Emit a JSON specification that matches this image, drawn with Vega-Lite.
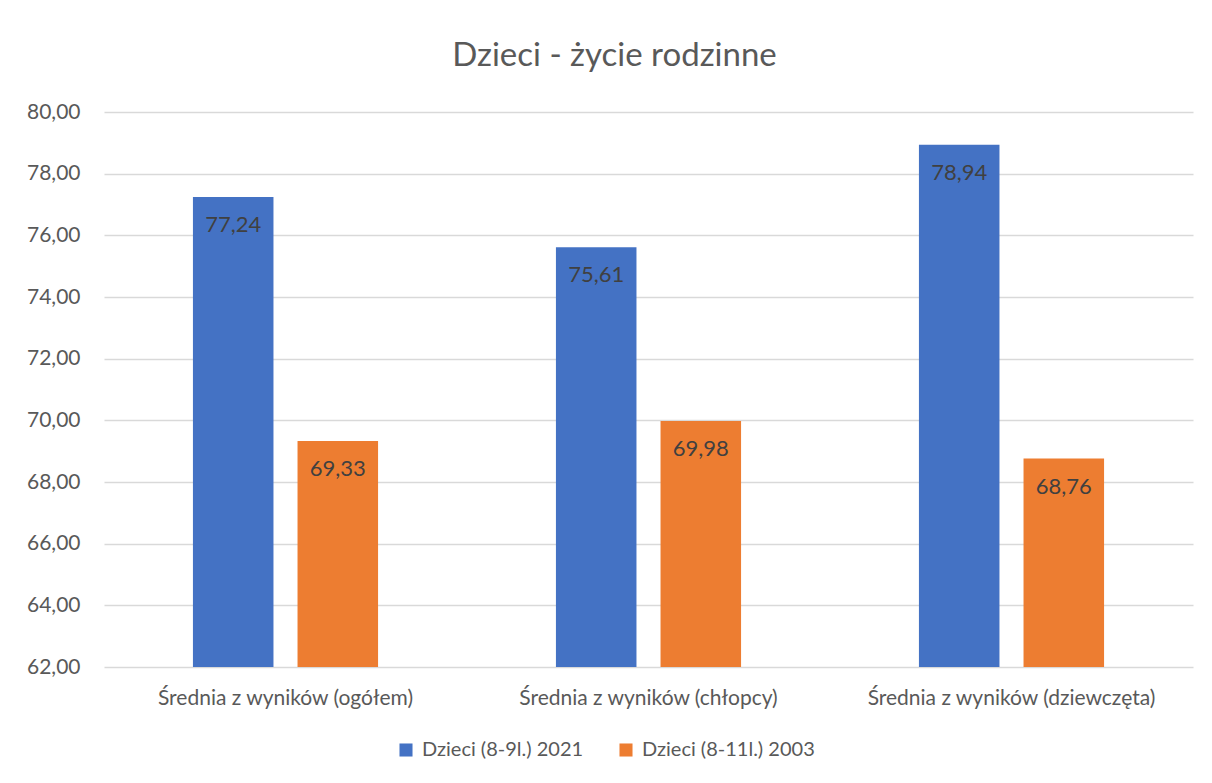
{
  "$schema": "https://vega.github.io/schema/vega-lite/v6.json",
  "autosize": {"type": "none"},
  "padding": {"left": 104, "top": 112, "right": 19, "bottom": 116},
  "width": 1089,
  "height": 555,
  "background": "white",
  "title": {
    "text": "Dzieci - życie rodzinne",
    "anchor": "middle",
    "dx": -34,
    "baseline": "alphabetic",
    "offset": 2,
    "font": "Lato",
    "fontSize": 33,
    "fontWeight": "normal",
    "color": "#595959"
  },
  "data": {
    "values": [
      {"kategoria": "Średnia z wyników (ogółem)", "seria": "Dzieci (8-9l.) 2021", "wartosc": 77.24},
      {"kategoria": "Średnia z wyników (ogółem)", "seria": "Dzieci (8-11l.) 2003", "wartosc": 69.33},
      {"kategoria": "Średnia z wyników (chłopcy)", "seria": "Dzieci (8-9l.) 2021", "wartosc": 75.61},
      {"kategoria": "Średnia z wyników (chłopcy)", "seria": "Dzieci (8-11l.) 2003", "wartosc": 69.98},
      {"kategoria": "Średnia z wyników (dziewczęta)", "seria": "Dzieci (8-9l.) 2021", "wartosc": 78.94},
      {"kategoria": "Średnia z wyników (dziewczęta)", "seria": "Dzieci (8-11l.) 2003", "wartosc": 68.76}
    ]
  },
  "encoding": {
    "x": {
      "field": "kategoria",
      "type": "nominal",
      "sort": null,
      "scale": {"paddingInner": 0.49, "paddingOuter": 0.245},
      "axis": {
        "title": null,
        "labelAngle": 0,
        "labelLimit": 0,
        "ticks": false,
        "domain": false,
        "labelPadding": 20,
        "labelFont": "Lato",
        "labelFontSize": 21,
        "labelColor": "#595959"
      }
    },
    "xOffset": {
      "field": "seria",
      "type": "nominal",
      "sort": ["Dzieci (8-9l.) 2021", "Dzieci (8-11l.) 2003"],
      "scale": {"paddingInner": 0.23, "paddingOuter": 0}
    },
    "y": {
      "field": "wartosc",
      "type": "quantitative",
      "scale": {"domain": [62, 80], "nice": false, "zero": false},
      "axis": {
        "title": null,
        "values": [62, 64, 66, 68, 70, 72, 74, 76, 78, 80],
        "format": ".2f",
        "ticks": false,
        "domain": false,
        "labelPadding": 24,
        "labelFont": "Lato",
        "labelFontSize": 21,
        "labelColor": "#595959",
        "gridColor": "#d9d9d9",
        "gridWidth": 1.5
      }
    }
  },
  "layer": [
    {
      "mark": {"type": "bar", "clip": true},
      "encoding": {
        "y2": {"datum": 62},
        "color": {
          "field": "seria",
          "type": "nominal",
          "sort": ["Dzieci (8-9l.) 2021", "Dzieci (8-11l.) 2003"],
          "scale": {"domain": ["Dzieci (8-9l.) 2021", "Dzieci (8-11l.) 2003"], "range": ["#4472c4", "#ed7d31"]},
          "legend": {
            "title": null,
            "orient": "none",
            "direction": "horizontal",
            "legendX": 292,
            "legendY": 628,
            "symbolType": "square",
            "symbolSize": 170,
            "symbolStrokeWidth": 0,
            "symbolOpacity": 1,
            "columnPadding": 32,
            "labelLimit": 0,
            "labelFont": "Lato",
            "labelFontSize": 20,
            "labelColor": "#595959",
            "labelOffset": 6
          }
        }
      }
    },
    {
      "mark": {"type": "text", "baseline": "top", "dy": 18, "font": "Lato", "fontSize": 22, "color": "#404040"},
      "encoding": {
        "text": {"field": "wartosc", "type": "quantitative", "format": ".2f"}
      }
    }
  ],
  "config": {
    "locale": {
      "number": {"decimal": ",", "thousands": " ", "grouping": [3], "currency": ["", " zł"]}
    },
    "view": {"stroke": null}
  }
}
